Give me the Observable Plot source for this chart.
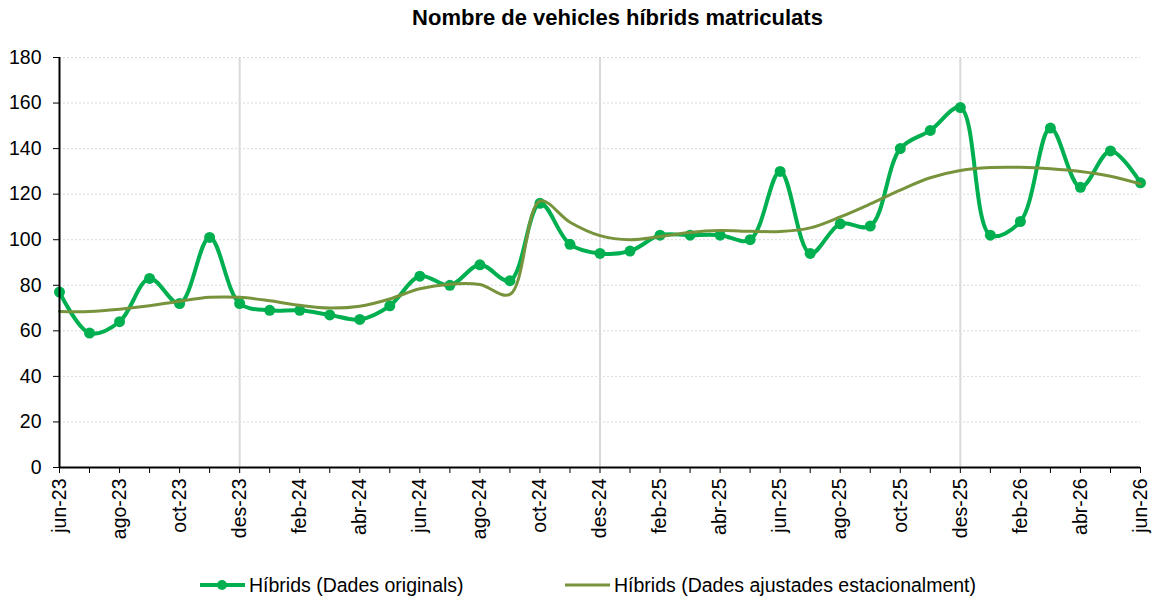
<!DOCTYPE html>
<html>
<head>
<meta charset="utf-8">
<script src="https://cdn.jsdelivr.net/npm/d3@7"></script>
<script src="https://cdn.jsdelivr.net/npm/@observablehq/plot@0.6"></script>
<style>
  html, body { margin: 0; padding: 0; background: #fff; }
  body { width: 1159px; height: 602px; overflow: hidden; font-family: "Liberation Sans", Arial, sans-serif; color: #000; }
  #title { height: 36px; line-height: 36px; text-align: center; font-weight: bold; font-size: 22px; padding-left: 76px; }
  #chart svg { display: block; }
  #legend { position: relative; margin-top: 18px; height: 22px; font-size: 19.5px; }
  .item { position: absolute; top: 0; height: 22px; display: flex; align-items: center; }
  .item svg { display: block; margin-right: 4px; }
</style>
</head>
<body>
<div id="title">Nombre de vehicles híbrids matriculats</div>
<div id="chart"></div>
<div id="legend">
  <div class="item" style="left:200px"><svg width="45" height="14"><line x1="0" y1="7" x2="45" y2="7" stroke="#00b050" stroke-width="4"/><circle cx="22" cy="7" r="5" fill="#00b050"/></svg><span>Híbrids (Dades originals)</span></div>
  <div class="item" style="left:565px"><svg width="45" height="14"><line x1="0" y1="7" x2="45" y2="7" stroke="#77933c" stroke-width="3"/></svg><span>Híbrids (Dades ajustades estacionalment)</span></div>
</div>
<script>
const months = ["jun-23","jul-23","ago-23","set-23","oct-23","nov-23","des-23","gen-24","feb-24","mar-24","abr-24","mai-24",
  "jun-24","jul-24","ago-24","set-24","oct-24","nov-24","des-24","gen-25","feb-25","mar-25","abr-25","mai-25",
  "jun-25","jul-25","ago-25","set-25","oct-25","nov-25","des-25","gen-26","feb-26","mar-26","abr-26","mai-26","jun-26"];
const original = [77,59,64,83,72,101,72,69,69,67,65,71,
  84,80,89,82,116,98,94,95,102,102,102,100,
  130,94,107,106,140,148,158,102,108,149,123,139,125];
const adjusted = [68.5,68.5,69.5,71,73,74.7,74.7,73.2,71.2,70,70.8,74,
  78.5,80.5,80.3,76,117,107.7,101.8,100,101.4,103.2,104,103.7,
  103.6,105.2,110,115.7,121.8,127.2,130.4,131.7,131.8,131.2,130,127.9,124.5];
const yTicks = [0,20,40,60,80,100,120,140,160,180];
const gridMonths = ["des-23","des-24","des-25"];

const orig = original.map((v, i) => ({i, v}));
const adj = adjusted.map((v, i) => ({i, v}));
const gridIdx = gridMonths.map(m => months.indexOf(m));
const idx = months.map((m, i) => i);

const chart = Plot.plot({
  width: 1159,
  height: 520,
  marginLeft: 59,
  marginRight: 19,
  marginTop: 21,
  marginBottom: 89,
  style: {fontSize: "19.5px", fontFamily: "'Liberation Sans', Arial, sans-serif", color: "#000", background: "#fff"},
  x: {domain: [0, months.length - 1]},
  y: {domain: [0, 180]},
  marks: [
    Plot.gridY(yTicks, {stroke: "#d9d9d9", strokeOpacity: 1, strokeDasharray: "2,2"}),
    Plot.ruleX(gridIdx, {stroke: "#d9d9d9", strokeWidth: 2}),
    Plot.line(orig, {x: "i", y: "v", stroke: "#00b050", strokeWidth: 4, curve: "catmull-rom"}),
    Plot.dot(orig, {x: "i", y: "v", r: 5.5, fill: "#00b050"}),
    Plot.line(adj, {x: "i", y: "v", stroke: "#77933c", strokeWidth: 3, curve: "catmull-rom"}),
    Plot.ruleY([0], {stroke: "#000", strokeWidth: 2}),
    Plot.ruleX([0], {stroke: "#000", strokeWidth: 2}),
    Plot.axisY({ticks: yTicks, tickSize: 6, tickPadding: 12, label: null, tickFormat: d => d}),
    Plot.axisX({ticks: idx, tickSize: 6, tickPadding: 5, tickRotate: -90, label: null,
      tickFormat: d => (d % 2 === 0 ? months[d] : "")})
  ]
});
document.getElementById("chart").appendChild(chart);
</script>
</body>
</html>
